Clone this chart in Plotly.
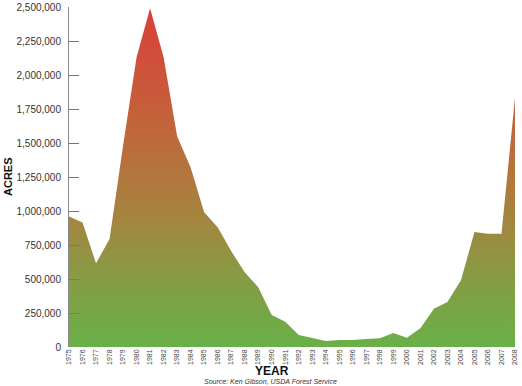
import plotly.graph_objects as go

years = list(range(1975, 2009))
acres = [960000, 915000, 615000, 795000, 1480000, 2130000, 2490000, 2130000,
         1550000, 1320000, 990000, 880000, 705000, 550000, 440000, 235000,
         185000, 88000, 66000, 45000, 51000, 51000, 58000, 65000,
         103000, 68000, 138000, 282000, 330000, 490000, 845000, 833000,
         833000, 1830000]
y_ticks = [0, 250000, 500000, 750000, 1000000, 1250000, 1500000, 1750000,
           2000000, 2250000, 2500000]

W, H = 522, 386
# plot area in page pixels: x 69..515, y 7..347
L, R, T, B = 69, W - 515, 7, H - 347
pw, ph = W - L - R, H - T - B

def px_x(p):
    return (p - L) / pw

def px_y(p):
    return (H - B - p) / ph

fig = go.Figure()
fig.add_trace(go.Scatter(
    x=years, y=acres, mode="lines", line=dict(width=0, color="rgba(0,0,0,0)"),
    fill="tozeroy",
    fillgradient=dict(
        type="vertical", start=0, stop=2500000,
        colorscale=[[0.0, "#69b048"], [0.2, "#869c45"], [0.36, "#a28740"],
                    [0.55, "#b8713c"], [0.75, "#c9593a"], [1.0, "#d9403a"]],
    ),
    hoverinfo="x+y", showlegend=False,
))

fig.update_layout(
    width=W, height=H,
    margin=dict(l=L, r=R, t=T, b=B, pad=0, autoexpand=False),
    paper_bgcolor="white", plot_bgcolor="white",
    font=dict(family="Liberation Sans, Arial, sans-serif", color="#333333"),
    xaxis=dict(
        range=[1975, 2008], tickvals=years, ticktext=[str(y) for y in years],
        tickangle=-90, tickfont=dict(size=7, color="#444444"),
        showgrid=False, zeroline=False, showline=False, ticks="", ticklen=0,
        fixedrange=True, automargin=False, ticklabeloverflow="allow",
    ),
    yaxis=dict(
        range=[0, 2500000], tickvals=y_ticks, tickformat=",d",
        tickfont=dict(size=10, color="#333333"),
        showgrid=False, zeroline=False, showline=True, linecolor="#8a8a8a",
        linewidth=1, ticks="inside", ticklen=10, tickcolor="#777777",
        ticklabelstandoff=5,
        fixedrange=True, automargin=False, ticklabeloverflow="allow",
    ),
    annotations=[
        dict(text="<b>ACRES</b>", xref="paper", yref="paper",
             x=px_x(8), y=px_y(177), textangle=-90, showarrow=False,
             xanchor="center", yanchor="middle",
             font=dict(size=11, color="#111111")),
        dict(text="<b>YEAR</b>", xref="paper", yref="paper",
             x=px_x(272), y=px_y(371), showarrow=False,
             xanchor="center", yanchor="middle",
             font=dict(size=12, color="#111111")),
        dict(text="<i>Source: Ken Gibson, USDA Forest Service</i>",
             xref="paper", yref="paper", x=px_x(270), y=px_y(381),
             showarrow=False, xanchor="center", yanchor="middle",
             font=dict(size=7, color="#333333")),
    ],
)

fig.write_html(
    "out.html",
    config={"displayModeBar": False},
    post_script="document.body.style.margin='0';document.body.style.overflow='hidden';",
)
